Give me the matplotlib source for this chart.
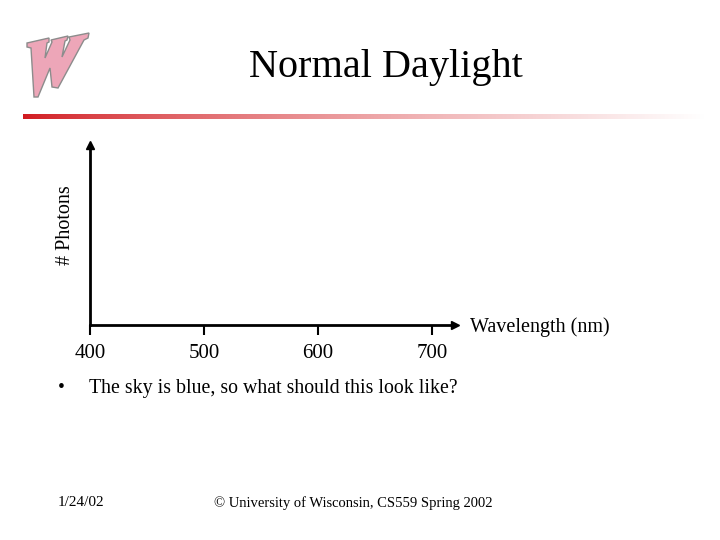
import numpy as np
import matplotlib.pyplot as plt
from matplotlib.patches import Polygon

plt.rcParams['font.family'] = ['Liberation Serif', 'DejaVu Serif']

title = 'Normal Daylight'
x_label = 'Wavelength (nm)'
y_label = '# Photons'
wavelengths = [400, 500, 600, 700]
x_range = (400, 720)
bullet = 'The sky is blue, so what should this look like?'
footer_date = '1/24/02'
footer_note = '\u00a9 University of Wisconsin, CS559 Spring 2002'

fig = plt.figure(figsize=(7.2, 5.4), dpi=100)
W, H = 720, 540

# logo, rough pencil "W" in slide pixels
bg = fig.add_axes([0, 0, 1, 1])
bg.set_xlim(0, W)
bg.set_ylim(H, 0)
bg.axis('off')
logo = [(27, 43), (49, 38), (49, 42), (47, 43), (45, 58), (52, 42), (51, 40), (68, 36),
        (67, 40), (65, 41), (62, 57), (70, 40), (69, 37), (89, 33), (88, 38), (84, 40),
        (58, 88), (52, 87), (50, 68), (38, 97), (34, 97), (31, 48), (27, 47)]
bg.add_patch(Polygon(logo, closed=True, facecolor='#eda6b8', edgecolor='#8c8c8c', lw=1))

# red gradient rule under the title
rule = fig.add_axes([23 / W, 1 - 119 / H, (705 - 23) / W, 5 / H])
t = np.linspace(0, 1, 400) ** 0.75
grad = np.ones((1, 400, 3))
grad[0, :, 0] = 0.82 + 0.18 * t
grad[0, :, 1] = 0.10 + 0.90 * t
grad[0, :, 2] = 0.12 + 0.88 * t
rule.imshow(grad, aspect='auto')
rule.axis('off')

fig.text(386 / W, 1 - 68 / H, title, ha='center', va='center', fontsize=29)

# the empty chart
ax = fig.add_axes([90 / W, 1 - 325 / H, (455 - 90) / W, (325 - 145) / H])
ax.set_xlim(*x_range)
ax.set_ylim(0, 1)
ax.set_xticks(wavelengths)
ax.set_xticklabels([str(w) for w in wavelengths])
ax.set_yticks([])
for s in ['top', 'right']:
    ax.spines[s].set_visible(False)
for s in ['left', 'bottom']:
    ax.spines[s].set_linewidth(2)
ax.tick_params(axis='x', direction='out', length=7.5, width=1.5, pad=6, labelsize=15)
ax.plot(1, 0, '>k', ms=6, transform=ax.transAxes, clip_on=False)
ax.plot(0, 1, '^k', ms=6, transform=ax.transAxes, clip_on=False)
fig.text(66 / W, 1 - 225 / H, y_label, rotation=90, ha='center', va='center', fontsize=14.5)
fig.text(470 / W, 1 - 327 / H, x_label, ha='left', va='center', fontsize=14.5)

fig.text(58 / W, 1 - 388 / H, '\u2022', ha='left', va='center', fontsize=14)
fig.text(89 / W, 1 - 388 / H, bullet, ha='left', va='center', fontsize=14.3)
fig.text(58 / W, 1 - 503 / H, footer_date, ha='left', va='center', fontsize=11)
fig.text(353 / W, 1 - 503 / H, footer_note, ha='center', va='center', fontsize=10.5)

fig.savefig('out.png', dpi=100)
